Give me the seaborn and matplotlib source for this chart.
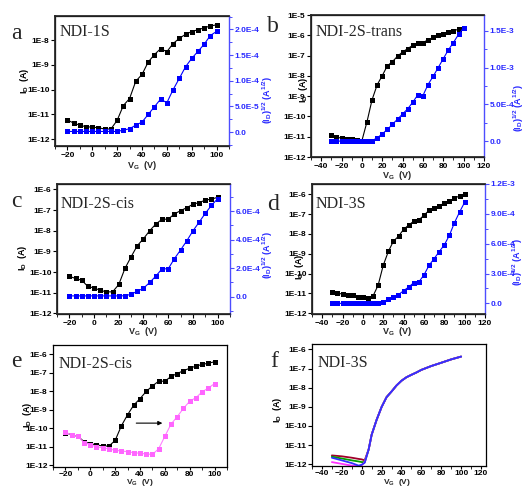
import matplotlib
matplotlib.use('Agg')
import numpy as np
import pandas as pd
import seaborn as sns
import matplotlib.pyplot as plt
from matplotlib.ticker import FixedLocator, MultipleLocator, FuncFormatter, NullLocator

sns.set_theme(style='ticks')
plt.rcParams['font.family'] = ['Liberation Sans', 'DejaVu Sans']
plt.rcParams['font.weight'] = 'bold'
plt.rcParams['mathtext.fontset'] = 'custom'
plt.rcParams['mathtext.rm'] = 'Liberation Sans:bold'
plt.rcParams['mathtext.it'] = 'Liberation Sans:bold'
plt.rcParams['mathtext.bf'] = 'Liberation Sans:bold'
plt.rcParams['mathtext.default'] = 'rm'

# ---------------- data ----------------
vg_a = [-20, -15, -10, -5, 0, 5, 10, 15, 20, 25, 30, 35, 40, 45, 50, 55, 60, 65, 70, 75, 80, 85, 90, 95, 100]
id_a = [6.0e-12, 4.5e-12, 3.7e-12, 3.2e-12, 3.1e-12, 2.9e-12, 2.6e-12, 2.6e-12, 5.8e-12, 2.3e-11,
        4.4e-11, 2.2e-10, 4.1e-10, 1.3e-9, 2.6e-9, 4.5e-9, 3.4e-9, 7.2e-9, 1.17e-8, 1.7e-8,
        2.2e-8, 2.6e-8, 3.1e-8, 3.7e-8, 4.1e-8]
sq_a = [1.3e-6, 1.3e-6, 1.3e-6, 1.3e-6, 1.3e-6, 1.3e-6, 1.3e-6, 1.3e-6, 1.3e-6, 3.9e-6,
        6.5e-6, 1.36e-5, 1.95e-5, 3.44e-5, 4.94e-5, 6.43e-5, 5.71e-5, 8.25e-5, 1.045e-4, 1.27e-4,
        1.435e-4, 1.57e-4, 1.71e-4, 1.88e-4, 1.96e-4]

vg_b = [-30, -25, -20, -15, -10, -5, 0, 5, 10, 15, 20, 25, 30, 35, 40, 45, 50, 55, 60, 65,
        70, 75, 80, 85, 90, 95, 100]
id_b = [1.17e-11, 9.5e-12, 8.5e-12, 7.9e-12, 7.4e-12, 6.8e-12, 6.3e-12, 5.4e-11, 6.6e-10, 3.6e-9,
        1.02e-8, 3.1e-8, 5.0e-8, 9.3e-8, 1.5e-7, 2.2e-7, 3.2e-7, 4.3e-7, 4.3e-7, 6.0e-7,
        7.8e-7, 9.8e-7, 1.17e-6, 1.38e-6, 1.66e-6, 2.0e-6, 2.3e-6]
sq_b = [3e-6, 3e-6, 3e-6, 3e-6, 3e-6, 3e-6, 3e-6, 3e-6, 1.0e-5, 4.5e-5,
        1.0e-4, 1.6e-4, 2.3e-4, 3.0e-4, 3.7e-4, 4.4e-4, 5.3e-4, 6.3e-4, 6.2e-4, 7.7e-4,
        8.8e-4, 1.0e-3, 1.12e-3, 1.24e-3, 1.34e-3, 1.45e-3, 1.54e-3]

vg_c = [-20, -15, -10, -5, 0, 5, 10, 15, 20, 25, 30, 35, 40, 45, 50, 55, 60, 65, 70, 75, 80, 85, 90, 95, 100]
id_c = [6.2e-11, 4.9e-11, 4.0e-11, 2.0e-11, 1.7e-11, 1.3e-11, 1.1e-11, 1.1e-11, 2.5e-11, 1.5e-10,
        5.5e-10, 1.9e-9, 4.1e-9, 1.0e-8, 2.1e-8, 3.6e-8, 3.6e-8, 6.5e-8, 9.3e-8, 1.3e-7,
        1.9e-7, 2.3e-7, 3.0e-7, 3.4e-7, 4.1e-7]
sq_c = [5e-6, 5e-6, 5e-6, 5e-6, 5e-6, 5e-6, 5e-6, 5e-6, 5e-6, 6e-6,
        1.65e-5, 3.76e-5, 5.9e-5, 9.9e-5, 1.44e-4, 1.95e-4, 1.95e-4, 2.66e-4, 3.27e-4, 3.91e-4,
        4.61e-4, 5.22e-4, 5.84e-4, 6.4e-4, 6.87e-4]

vg_d = [-30, -25, -20, -15, -10, -5, 0, 5, 10, 15, 20, 25, 30, 35, 40, 45, 50, 55, 60, 65,
        70, 75, 80, 85, 90, 95, 100]
id_d = [1.23e-11, 1.02e-11, 9.3e-12, 8.7e-12, 8.1e-12, 6.9e-12, 6.5e-12, 5.9e-12, 7.4e-12, 2.6e-11,
        2.6e-10, 1.3e-9, 4.3e-9, 7.6e-9, 1.7e-8, 2.8e-8, 4.4e-8, 5.1e-8, 8.7e-8, 1.55e-7,
        1.95e-7, 2.7e-7, 3.5e-7, 4.5e-7, 6.3e-7, 8.3e-7, 1.05e-6]
sq_d = [0.0, 0.0, 0.0, 0.0, 0.0, 0.0, 0.0, 0.0, 0.0, 0.0,
        1.7e-5, 4.0e-5, 6.7e-5, 8.7e-5, 1.27e-4, 1.64e-4, 2.08e-4, 2.15e-4, 2.85e-4, 3.82e-4,
        4.49e-4, 5.2e-4, 5.87e-4, 6.84e-4, 8.11e-4, 9.18e-4, 1.016e-3]

vg_e = [-20, -15, -10, -5, 0, 5, 10, 15, 20, 25, 30, 35, 40, 45, 50, 55, 60, 65, 70, 75, 80, 85, 90, 95, 100]
id_e_fwd = [5.8e-11, 4.5e-11, 3.7e-11, 1.9e-11, 1.45e-11, 1.3e-11, 1.1e-11, 1.1e-11, 2.2e-11, 1.35e-10,
            5.4e-10, 1.8e-9, 4.0e-9, 9.8e-9, 1.95e-8, 3.5e-8, 3.5e-8, 6.3e-8, 9.1e-8, 1.3e-7,
            1.75e-7, 2.3e-7, 2.8e-7, 3.3e-7, 3.9e-7]
id_e_bias = [6.0e-11, 4.5e-11, 3.7e-11, 1.7e-11, 1.3e-11, 1.0e-11, 8.9e-12, 7.6e-12, 6.6e-12, 5.9e-12,
             5.5e-12, 4.8e-12, 4.5e-12, 4.1e-12, 3.9e-12, 7.8e-12, 3.7e-11, 1.7e-10, 4.3e-10, 1.2e-9,
             2.9e-9, 4.5e-9, 9.3e-9, 1.5e-8, 2.6e-8]

vg_f_low = [-30, -20, -10, -3, 0, 3]
id_f_red = [2.9e-12, 2.6e-12, 2.2e-12, 1.9e-12, 1.8e-12, 1.6e-12]
id_f_green = [2.5e-12, 2.0e-12, 1.6e-12, 1.4e-12, 1.3e-12, 1.3e-12]
id_f_magenta = [1.3e-12, 1.05e-12, 0.85e-12, 0.8e-12, 0.9e-12, 1.3e-12]
id_f_blue = [2.2e-12, 1.6e-12, 1.15e-12, 0.85e-12, 0.95e-12, 1.2e-12]
vg_f_high = [7, 10, 15, 20, 25, 30, 35, 40, 45, 50, 55, 60, 70, 80, 90, 100]
id_f_high = [6.0e-12, 3.5e-11, 2.1e-10, 9.8e-10, 3.2e-9, 6.3e-9, 1.3e-8, 2.3e-8, 3.5e-8, 4.7e-8,
             6.2e-8, 8.5e-8, 1.35e-7, 2.0e-7, 3.0e-7, 4.2e-7]

# ---------------- figure ----------------
W, H = 526, 488
fig = plt.figure(figsize=(W / 100, H / 100), dpi=100)

BLUE_AX = '#4d4dff'
BLUE_TXT = '#2a2aff'
ID_LABEL = r'I$_{\mathrm{D}}$  (A)'
VG_LABEL = r'V$_{\mathrm{G}}$  (V)'
SQ_LABEL = r'(I$_{\mathrm{D}}$)$^{1/2}$ (A$^{1/2}$)'


def add_ax(box):
    l, t, r, b = box
    return fig.add_axes([l / W, 1 - b / H, (r - l) / W, (b - t) / H])


def logfmt(v, p):
    return '1E%d' % int(round(np.log10(v)))


def sqfmt(v, p):
    if abs(v) < 1e-12:
        return '0.0'
    m, e = ('%.1E' % v).split('E')
    return '%sE%d' % (m, int(e))


def style_main(ax, box, xlim, xmaj, ylog, ytick_exps, xpad=1.0, xlen=3):
    ax.set_yscale('log')
    ax.set_xlim(*xlim)
    ax.set_ylim(10 ** ylog[0], 10 ** ylog[1])
    ax.xaxis.set_major_locator(MultipleLocator(xmaj))
    ax.xaxis.set_minor_locator(MultipleLocator(xmaj / 2))
    ax.yaxis.set_major_locator(FixedLocator([10.0 ** e for e in ytick_exps]))
    ax.yaxis.set_minor_locator(NullLocator())
    ax.yaxis.set_major_formatter(FuncFormatter(logfmt))
    ax.tick_params(axis='both', which='major', direction='out', length=3, width=0.8,
                   labelsize=6, pad=1.0, colors='black')
    ax.tick_params(axis='x', which='major', length=xlen, pad=xpad)
    ax.tick_params(axis='x', which='minor', direction='out', length=1.8, width=0.7)
    for s in ax.spines.values():
        s.set_linewidth(0.9)
        s.set_color('black')


def place_ylabel(ax, box, text, cx, cy, color='black'):
    l, t, r, b = box
    ax.set_ylabel(text, fontsize=6.5, fontweight='bold', color=color)
    ax.yaxis.set_label_coords((cx - l) / (r - l), (b - cy) / (b - t))
    lab = ax.yaxis.label
    lab.set_rotation_mode('default')
    lab.set_ha('center')
    lab.set_va('center')


def place_xlabel(ax, box, cx, cy, va='center', size=6.5):
    l, t, r, b = box
    ax.set_xlabel(VG_LABEL, fontsize=size, fontweight='bold')
    ax.xaxis.set_label_coords((cx - l) / (r - l), (b - cy) / (b - t))
    ax.xaxis.label.set_va(va)
    ax.xaxis.label.set_ha('center')


def style_twin(ax2, ylim, ticks, minor):
    ax2.set_ylim(*ylim)
    ax2.yaxis.set_major_locator(FixedLocator(ticks))
    ax2.yaxis.set_minor_locator(MultipleLocator(minor))
    ax2.yaxis.set_major_formatter(FuncFormatter(sqfmt))
    ax2.tick_params(axis='y', which='major', direction='out', length=3, width=0.8,
                    labelsize=6, pad=1.2, color=BLUE_AX, labelcolor=BLUE_TXT)
    ax2.tick_params(axis='y', which='minor', direction='out', length=1.8, width=0.7, color=BLUE_AX)
    ax2.spines['right'].set_color(BLUE_AX)
    ax2.spines['right'].set_linewidth(1.0)
    for lbl in ax2.get_yticklabels():
        lbl.set_fontweight('bold')


def letter(x, y, ch):
    fig.text(x / W, 1 - y / H, ch, fontsize=17, family=['Liberation Serif'],
             fontweight='normal', va='baseline', ha='left')


def title(x, y, s):
    fig.text(x / W, 1 - y / H, s, fontsize=11.5, family=['Liberation Serif'],
             fontweight='normal', va='baseline', ha='left')


MK = dict(marker='s', markersize=3.6, markeredgewidth=0, linewidth=0.8)


def series(ax, xs, ys, color, mfc=None):
    df = pd.DataFrame({'VG': xs, 'Y': ys})
    kw = dict(MK)
    if mfc is not None:
        kw['markerfacecolor'] = mfc
    sns.lineplot(data=df, x='VG', y='Y', ax=ax, color=color, estimator=None,
                 sort=False, **kw)


def dual_panel(box, vg, idv, sq, xlim, xmaj, ylog, yexps, tlim, tticks, tminor,
               lab_l, lab_x, lab_r):
    ax = add_ax(box)
    series(ax, vg, idv, 'black')
    style_main(ax, box, xlim, xmaj, ylog, yexps)
    ax.spines['right'].set_visible(False)
    ax2 = ax.twinx()
    series(ax2, vg, sq, '#0000ff')
    style_twin(ax2, tlim, tticks, tminor)
    ax2.set_xlim(*xlim)
    place_ylabel(ax, box, ID_LABEL, *lab_l)
    place_xlabel(ax, box, *lab_x)
    place_ylabel(ax2, box, SQ_LABEL, *lab_r, color=BLUE_TXT)
    return ax, ax2


# panel a
box_a = (55, 16, 229, 146)
dual_panel(box_a, vg_a, id_a, sq_a, (-30, 110), 20, (-12.27, -7.03), [-12, -11, -10, -9, -8],
           (-2.7e-5, 2.26e-4), [0, 5e-5, 1e-4, 1.5e-4, 2e-4], 2.5e-5,
           (25, 81), (142, 165), (268, 100))
letter(11, 39, 'a')
title(60, 36, 'NDI-1S')

# panel b
box_b = (311, 15, 484, 157)
dual_panel(box_b, vg_b, id_b, sq_b, (-50, 120), 20, (-12.0, -5.0),
           [-12, -11, -10, -9, -8, -7, -6, -5],
           (-2.13e-4, 1.713e-3), [0, 5e-4, 1e-3, 1.5e-3], 2.5e-4,
           (303, 90), (397, 176), (519, 108))
letter(267, 32, 'b')
title(316, 36, 'NDI-2S-trans')

# panel c
box_c = (57, 184, 230, 314)
dual_panel(box_c, vg_c, id_c, sq_c, (-30, 110), 20, (-12.03, -5.74),
           [-12, -11, -10, -9, -8, -7, -6],
           (-1.22e-4, 7.9e-4), [0, 2e-4, 4e-4, 6e-4], 1e-4,
           (22, 258), (143, 331), (268, 255))
letter(11, 207, 'c')
title(61, 208, 'NDI-2S-cis')

# panel d
box_d = (312, 184, 485, 314)
dual_panel(box_d, vg_d, id_d, sq_d, (-50, 120), 20, (-12.04, -5.48),
           [-12, -11, -10, -9, -8, -7, -6],
           (-1.07e-4, 1.2e-3), [0, 3e-4, 6e-4, 9e-4, 1.2e-3], 1.5e-4,
           (300, 267), (397, 331), (518, 262))
letter(267, 210, 'd')
title(316, 208, 'NDI-3S')

# panel e
box_e = (53, 345, 227, 467)
ax_e = add_ax(box_e)
series(ax_e, vg_e, id_e_fwd, 'black')
series(ax_e, vg_e, id_e_bias, '#ff80ff', mfc='#ff66ff')
style_main(ax_e, box_e, (-30, 110), 20, (-12.09, -5.5), [-12, -11, -10, -9, -8, -7, -6],
           xpad=0.6, xlen=2.5)
place_ylabel(ax_e, box_e, ID_LABEL, 27, 415)
place_xlabel(ax_e, box_e, 140, 487.8, va='bottom', size=6.0)
ax_e.annotate('', xy=(58, 10 ** -9.72), xytext=(37, 10 ** -9.72),
              arrowprops=dict(arrowstyle='-|>', color='black', lw=0.8, mutation_scale=6,
                              shrinkA=0, shrinkB=0))
letter(11, 367, 'e')
title(59, 368, 'NDI-2S-cis')

# panel f
box_f = (312, 344, 486, 466)
ax_f = add_ax(box_f)
curves = [('red', id_f_red, '#a0002a'), ('green', id_f_green, '#00a000'),
          ('magenta', id_f_magenta, '#ff33ff'), ('blue', id_f_blue, '#3030ff')]
rows = []
for name, low, col in curves:
    for x, y in zip(vg_f_low + vg_f_high, low + id_f_high):
        rows.append((name, x, y))
df_f = pd.DataFrame(rows, columns=['curve', 'VG', 'ID'])
sns.lineplot(data=df_f, x='VG', y='ID', hue='curve', ax=ax_f, estimator=None, sort=False,
             palette={n: c for n, _, c in curves}, linewidth=1.3, legend=False)
style_main(ax_f, box_f, (-50, 125), 20, (-12.09, -5.72), [-12, -11, -10, -9, -8, -7, -6],
           xpad=0.6, xlen=2.5)
place_ylabel(ax_f, box_f, ID_LABEL, 277, 410)
place_xlabel(ax_f, box_f, 397, 487.8, va='bottom', size=6.0)
letter(270, 367, 'f')
title(318, 367, 'NDI-3S')

fig.savefig('out.png', dpi=100)
